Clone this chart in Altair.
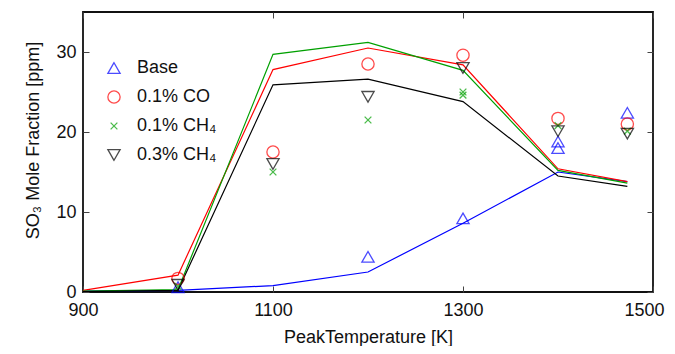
import altair as alt
import pandas as pd

# ---- data ----
series_names = ["Base", "0.1% CO", "0.1% CH₄", "0.3% CH₄"]
series_colors = ["#0000ff", "#ff0000", "#00a000", "#000000"]

model_T = [900, 1000, 1100, 1200, 1300, 1400, 1473]
model_base = [0.1, 0.2, 0.8, 2.5, 8.6, 15.0, 13.8]
model_co = [0.2, 2.1, 27.8, 30.5, 28.4, 15.4, 13.8]
model_ch4_1 = [0.1, 0.3, 29.7, 31.2, 27.7, 15.2, 13.6]
model_ch4_3 = [0.05, 0.2, 25.9, 26.6, 23.8, 14.5, 13.2]

exp_base_T = [1000, 1200, 1300, 1400, 1400, 1473]
exp_base_v = [0.6, 4.4, 9.2, 18.8, 18.0, 22.4]
exp_co_T = [1000, 1100, 1200, 1300, 1400, 1473]
exp_co_v = [1.7, 17.5, 28.5, 29.6, 21.7, 21.0]
exp_ch4_1_T = [1000, 1100, 1200, 1300, 1300, 1400, 1473]
exp_ch4_1_v = [0.7, 15.0, 21.5, 25.0, 24.6, 20.8, 20.1]
exp_ch4_3_T = [1000, 1100, 1200, 1300, 1400, 1473]
exp_ch4_3_v = [0.9, 16.0, 24.4, 28.0, 20.1, 19.8]

x_ticks = [900, 1100, 1300, 1500]
y_ticks = [0, 10, 20, 30]

# ---- tables ----
model_rows = []
for name, vals in zip(series_names, [model_base, model_co, model_ch4_1, model_ch4_3]):
    for t, v in zip(model_T, vals):
        model_rows.append({"T": t, "v": v, "series": name})
model_df = pd.DataFrame(model_rows)

exp_rows = []
for name, ts, vs in zip(series_names,
                        [exp_base_T, exp_co_T, exp_ch4_1_T, exp_ch4_3_T],
                        [exp_base_v, exp_co_v, exp_ch4_1_v, exp_ch4_3_v]):
    for t, v in zip(ts, vs):
        exp_rows.append({"T": t, "v": v, "series": name})
exp_df = pd.DataFrame(exp_rows)

FONT = "Liberation Sans"
FS = 18
TICK = 6
TICKCOLOR = "#444"
xscale = alt.Scale(domain=[900, 1500], nice=False, zero=False)
yscale = alt.Scale(domain=[0, 35], nice=False)

x_axis = alt.Axis(values=x_ticks, format="d", title="PeakTemperature [K]", grid=False,
                  domain=False, tickSize=TICK, offset=-TICK, labelPadding=9,
                  tickColor=TICKCOLOR, labelFontSize=FS, titleFontSize=FS,
                  titleFontWeight="normal", labelColor="#111", titleColor="#111",
                  labelFont=FONT, titleFont=FONT, titlePadding=9, labelFlush=False,
                  labelOffset={"condition": {"test": "datum.value === 1500", "value": -9},
                               "value": 0})
y_axis = alt.Axis(values=y_ticks, title="SO₃ Mole Fraction [ppm]", grid=False, domain=False,
                  tickSize=TICK, offset=-TICK, labelPadding=7, tickColor=TICKCOLOR,
                  labelFontSize=FS, titleFontSize=FS, titleFontWeight="normal",
                  labelColor="#111", titleColor="#111", labelFont=FONT, titleFont=FONT,
                  titleX=-47, titleY=128)

line_layers = []
for name, col in zip(series_names, series_colors):
    line_layers.append(
        alt.Chart(model_df).transform_filter(alt.datum.series == name)
        .mark_line(strokeWidth=1.2, color=col, clip=True)
        .encode(
            x=alt.X("T:Q", scale=xscale, axis=x_axis),
            y=alt.Y("v:Q", scale=yscale, axis=y_axis),
        )
    )

x_path = "M-0.55,-0.55L0.55,0.55M0.55,-0.55L-0.55,0.55"
shape_scale = alt.Scale(domain=series_names,
                        range=["triangle-up", "circle", x_path, "triangle-down"])
legend = alt.Legend(title=None, orient="none", legendX=22, legendY=47,
                    labelFontSize=FS, labelFont=FONT, labelColor="#111",
                    symbolSize=150, symbolStrokeWidth=1.3, rowPadding=11,
                    labelOffset=14, padding=0)

points = alt.Chart(exp_df).mark_point(filled=False, size=150, strokeWidth=1.3).encode(
    x=alt.X("T:Q", scale=xscale, axis=x_axis),
    y=alt.Y("v:Q", scale=yscale, axis=y_axis),
    color=alt.Color("series:N", scale=alt.Scale(domain=series_names, range=series_colors),
                    legend=legend),
    shape=alt.Shape("series:N", scale=shape_scale, legend=legend),
)

ghost = alt.Chart(model_df).mark_point(opacity=0).encode(
    x=alt.X("T:Q", scale=xscale,
            axis=alt.Axis(orient="top", values=x_ticks, labels=False, title=None, grid=False,
                          domain=False, tickSize=TICK, offset=-TICK, tickColor=TICKCOLOR)),
    y=alt.Y("v:Q", scale=yscale,
            axis=alt.Axis(orient="right", values=y_ticks, labels=False, title=None, grid=False,
                          domain=False, tickSize=TICK, offset=-TICK, tickColor=TICKCOLOR)),
)

chart = alt.layer(alt.layer(*line_layers, points), ghost).resolve_scale(
    x="independent", y="independent"
).properties(
    width=570, height=280,
    autosize=alt.AutoSizeParams(type="none"),
    padding={"left": 75, "top": 4, "right": 14, "bottom": 54},
).configure_view(
    stroke="#111", strokeWidth=1.8
)

chart.save("out.html", embed_options={"renderer": "svg", "actions": False})
